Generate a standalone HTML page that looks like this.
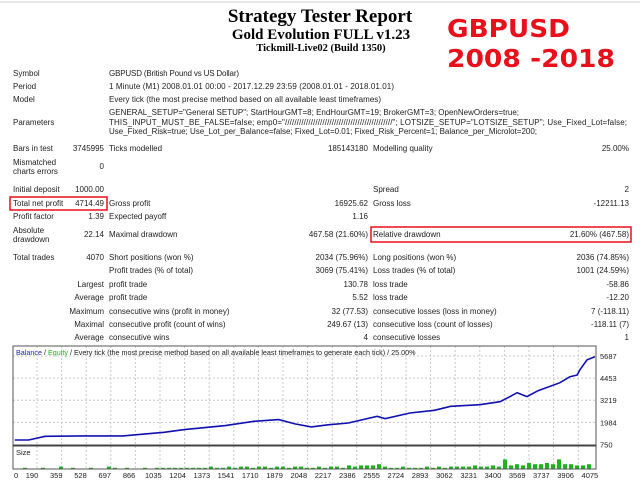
<!DOCTYPE html>
<html><head><meta charset="utf-8"><style>
html,body{margin:0;padding:0;background:#fff;}
svg{display:block;font-family:"Liberation Sans",sans-serif;}
.t{font-size:8px;fill:#222;}
.r{text-anchor:end;}
</style></head><body>
<svg id="page" width="640" height="480" viewBox="0 0 640 480" xmlns="http://www.w3.org/2000/svg">
<rect width="640" height="480" fill="#fff"/>
<line x1="0" y1="2" x2="640" y2="2" stroke="#ccc" stroke-width="1"/>
<g font-family="Liberation Serif,serif" font-weight="bold" text-anchor="middle" fill="#000">
<text x="320" y="22" font-size="19">Strategy Tester Report</text>
<text x="321" y="39" font-size="15">Gold Evolution FULL v1.23</text>
<text x="321" y="51" font-size="10.5">Tickmill-Live02 (Build 1350)</text>
</g>
<g font-weight="bold" fill="#e8101a" font-family="DejaVu Sans,sans-serif">
<text x="447" y="37" font-size="25" textLength="123" lengthAdjust="spacingAndGlyphs">GBPUSD</text>
<text x="447" y="67" font-size="25" textLength="168" lengthAdjust="spacingAndGlyphs">2008 -2018</text>
</g>
<g class="t">
<text class="t" x="13" y="76">Symbol</text>
<text class="t" x="109" y="76" textLength="130">GBPUSD (British Pound vs US Dollar)</text>
<text class="t" x="13" y="89">Period</text>
<text class="t" x="109" y="89" textLength="285">1 Minute (M1) 2008.01.01 00:00 - 2017.12.29 23:59 (2008.01.01 - 2018.01.01)</text>
<text class="t" x="13" y="102">Model</text>
<text class="t" x="109" y="102" textLength="272">Every tick (the most precise method based on all available least timeframes)</text>
<text class="t" x="13" y="125">Parameters</text>
<text class="t" x="109" y="115" textLength="410">GENERAL_SETUP="General SETUP"; StartHourGMT=8; EndHourGMT=19; BrokerGMT=3; OpenNewOrders=true;</text>
<text class="t" x="109" y="125" textLength="518">THIS_INPUT_MUST_BE_FALSE=false; emp0="//////////////////////////////////////////////"; LOTSIZE_SETUP="LOTSIZE_SETUP"; Use_Fixed_Lot=false;</text>
<text class="t" x="109" y="134" textLength="428">Use_Fixed_Risk=true; Use_Lot_per_Balance=false; Fixed_Lot=0.01; Fixed_Risk_Percent=1; Balance_per_Microlot=200;</text>
<text class="t" x="13" y="151">Bars in test</text><text class="t r" x="104" y="151">3745995</text>
<text class="t" x="109" y="151">Ticks modelled</text><text class="t r" x="368" y="151">185143180</text>
<text class="t" x="373" y="151">Modelling quality</text><text class="t r" x="629" y="151">25.00%</text>
<text class="t" x="13" y="165">Mismatched</text><text class="t" x="13" y="174">charts errors</text><text class="t r" x="104" y="169">0</text>
<text class="t" x="13" y="192">Initial deposit</text><text class="t r" x="104" y="192">1000.00</text>
<text class="t" x="373" y="192">Spread</text><text class="t r" x="629" y="192">2</text>
<text class="t" x="13" y="206">Total net profit</text><text class="t r" x="104" y="206">4714.49</text>
<text class="t" x="109" y="206">Gross profit</text><text class="t r" x="368" y="206">16925.62</text>
<text class="t" x="373" y="206">Gross loss</text><text class="t r" x="629" y="206">-12211.13</text>
<text class="t" x="13" y="219">Profit factor</text><text class="t r" x="104" y="219">1.39</text>
<text class="t" x="109" y="219">Expected payoff</text><text class="t r" x="368" y="219">1.16</text>
<text class="t" x="13" y="233">Absolute</text><text class="t" x="13" y="242">drawdown</text><text class="t r" x="104" y="237">22.14</text>
<text class="t" x="109" y="237">Maximal drawdown</text><text class="t r" x="368" y="237">467.58 (21.60%)</text>
<text class="t" x="373" y="237">Relative drawdown</text><text class="t r" x="629" y="237">21.60% (467.58)</text>
<text class="t" x="13" y="260">Total trades</text><text class="t r" x="104" y="260">4070</text>
<text class="t" x="109" y="260">Short positions (won %)</text><text class="t r" x="368" y="260">2034 (75.96%)</text>
<text class="t" x="373" y="260">Long positions (won %)</text><text class="t r" x="629" y="260">2036 (74.85%)</text>
<text class="t" x="109" y="273">Profit trades (% of total)</text><text class="t r" x="368" y="273">3069 (75.41%)</text>
<text class="t" x="373" y="273">Loss trades (% of total)</text><text class="t r" x="629" y="273">1001 (24.59%)</text>
<text class="t r" x="104" y="287">Largest</text><text class="t" x="109" y="287">profit trade</text><text class="t r" x="368" y="287">130.78</text>
<text class="t" x="373" y="287">loss trade</text><text class="t r" x="629" y="287">-58.86</text>
<text class="t r" x="104" y="300">Average</text><text class="t" x="109" y="300">profit trade</text><text class="t r" x="368" y="300">5.52</text>
<text class="t" x="373" y="300">loss trade</text><text class="t r" x="629" y="300">-12.20</text>
<text class="t r" x="104" y="314">Maximum</text><text class="t" x="109" y="314">consecutive wins (profit in money)</text><text class="t r" x="368" y="314">32 (77.53)</text>
<text class="t" x="373" y="314">consecutive losses (loss in money)</text><text class="t r" x="629" y="314">7 (-118.11)</text>
<text class="t r" x="104" y="327">Maximal</text><text class="t" x="109" y="327">consecutive profit (count of wins)</text><text class="t r" x="368" y="327">249.67 (13)</text>
<text class="t" x="373" y="327">consecutive loss (count of losses)</text><text class="t r" x="629" y="327">-118.11 (7)</text>
<text class="t r" x="104" y="340">Average</text><text class="t" x="109" y="340">consecutive wins</text><text class="t r" x="368" y="340">4</text>
<text class="t" x="373" y="340">consecutive losses</text><text class="t r" x="629" y="340">1</text>
</g>
<rect x="10" y="197" width="97" height="13" fill="none" stroke="#e8101a" stroke-width="1.5"/>
<rect x="371" y="227" width="260" height="15" fill="none" stroke="#e8101a" stroke-width="1.5"/>
<g id="chart"></g>
</svg>
<script>
const tradeIdx = [70,167,281,538,824,1109,1252,1537,1736,1908,2021,2136,2251,2393,2593,2649,2822,2992,3106,3310,3449,3519,3568,3637,3714,3867,3936,3985,4006,4055,4110];
const balance = [1000,1000,1210,1230,1230,1430,1580,1806,2045,2140,1900,1733,1850,1950,2323,2190,2510,2660,2880,2970,3140,3420,3640,3420,3750,4200,4530,4620,4920,5470,5650];
const yTicks = [5687,4453,3219,1984,750];
const xTicks = [0,190,359,528,697,866,1035,1204,1373,1541,1710,1879,2048,2217,2386,2555,2724,2893,3062,3231,3400,3569,3737,3906,4075];
const sizeLots = [0,1,0,0,1,0,0,2,0,1,0,0,1,0,0,2,1,0,1,0,0,1,0,1,1,1,1,1,1,1,1,1,2,1,1,2,1,2,2,1,2,2,1,2,2,1,2,2,1,1,2,1,2,2,1,3,2,3,3,3,4,2,1,1,2,1,1,1,2,1,2,1,2,2,2,2,3,2,2,3,2,8,3,4,3,5,4,4,5,4,8,4,4,3,3,4];

const NS='http://www.w3.org/2000/svg';
const g=document.getElementById('chart');
const L=13,R=596,T=346,B=444.5,SB=469;
const xS=t=>32+(t-190)*0.1436;
const yS=v=>B-(v-750)*(88.5/4937);
function el(tag,a){const e=document.createElementNS(NS,tag);for(const k in a)e.setAttribute(k,a[k]);g.appendChild(e);return e;}
for(let x=37;x<R;x+=24.6){const l=el('line',{x1:x,y1:T,x2:x,y2:SB,stroke:'#c8c8c8','stroke-dasharray':'2,2'});

}
yTicks.forEach(v=>{const y=yS(v);
if(v!==750){const l=el('line',{x1:L,y1:y,x2:R,y2:y,stroke:'#c8c8c8','stroke-dasharray':'2,2'});

}
const tk=el('text',{x:R+4,y:y+3,'font-size':'7.5',fill:'#222'});tk.textContent=v;

});
xTicks.forEach((t,i)=>{const tx=el('text',{x:i===0?L+1:xS(t),y:478,'font-size':'7.5',fill:'#222','text-anchor':i===0?'start':'middle'});tx.textContent=t;

});
sizeLots.forEach((s,i)=>{if(!s)return;const x=L+4+i*6;if(x>R-2)return;
const b=el('rect',{x:x,y:SB-s*1.2,width:4,height:s*1.2,fill:'#1db41d'});

});
let d='';tradeIdx.forEach((t,i)=>{d+=(i?'L':'M')+xS(t).toFixed(1)+','+yS(balance[i]).toFixed(1);});
const p=el('path',{d:d,fill:'none',stroke:'#1010b0','stroke-width':'1.6'});


const f=el('rect',{x:L,y:T,width:R-L,height:SB-T,fill:'none',stroke:'#555','stroke-width':'1'});


const sep=el('line',{x1:L,y1:445.5,x2:R,y2:445.5,stroke:'#444','stroke-width':'2'});


const st=el('text',{x:L+3,y:455,'font-size':'7.5',fill:'#222'});st.textContent='Size';


const lg=el('text',{x:L+3,y:355,'font-size':'7.2',fill:'#222'});


lg.innerHTML='<tspan fill="#2222cc">Balance</tspan> / <tspan fill="#1db41d">Equity</tspan> / Every tick (the most precise method based on all available least timeframes to generate each tick) / 25.00%';
</script>
</body></html>
